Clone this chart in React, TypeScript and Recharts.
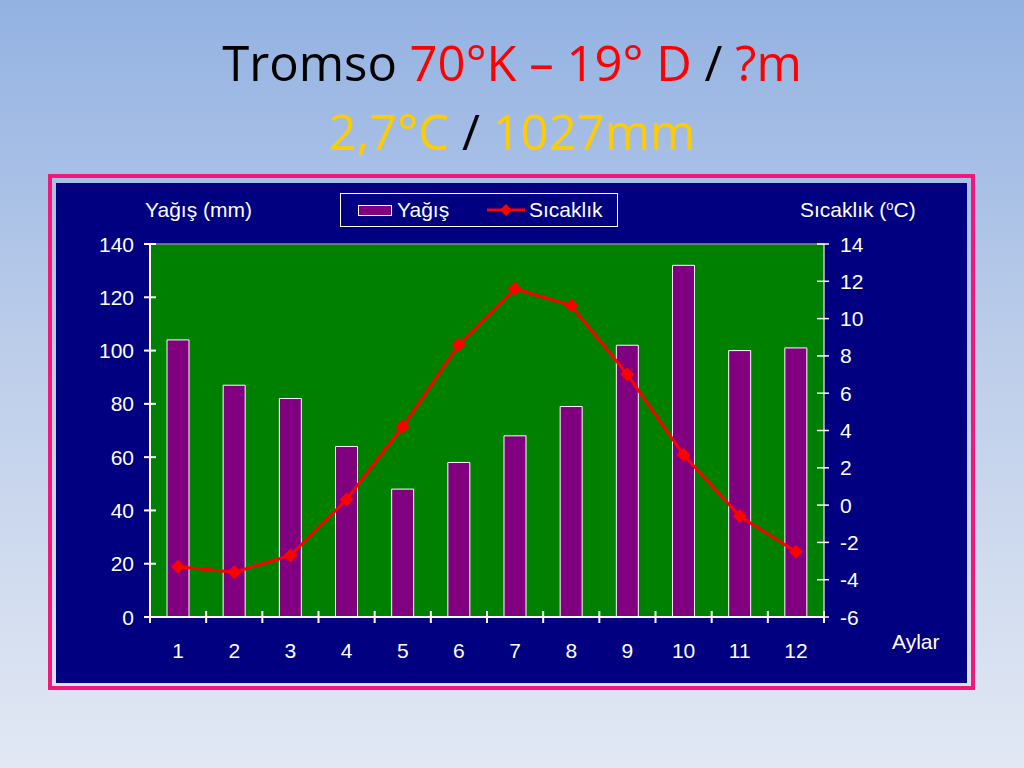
import React from 'react';
import { ComposedChart, Bar, Line, XAxis, YAxis, CartesianGrid, ReferenceLine } from 'recharts';

const months = ['1', '2', '3', '4', '5', '6', '7', '8', '9', '10', '11', '12'];
const precipitation = [104, 87, 82, 64, 48, 58, 68, 79, 102, 132, 100, 101];
const temperature = [-3.3, -3.6, -2.7, 0.3, 4.2, 8.6, 11.6, 10.7, 7.0, 2.7, -0.6, -2.5];
const precipTicks = [0, 20, 40, 60, 80, 100, 120, 140];
const tempTicks = [-6, -4, -2, 0, 2, 4, 6, 8, 10, 12, 14];

const data = months.map((m, i) => ({ month: m, rain: precipitation[i], temp: temperature[i] }));

const FONT = '"Liberation Sans", Arial, sans-serif';
const NAVY = '#000080';
const FS = 21;

const LeftTick = (props: any) => {
  const { x, y, payload } = props;
  return (
    <g>
      <line x1={x - 6} x2={x + 6} y1={y} y2={y} stroke="#fff" strokeWidth={2} />
      <text x={x - 16} y={y} textAnchor="end" dominantBaseline="central" fill="#fff" fontSize={FS} fontFamily={FONT}>
        {payload.value}
      </text>
    </g>
  );
};

const RightTick = (props: any) => {
  const { x, y, payload } = props;
  return (
    <g>
      <line x1={x - 7} x2={x + 5} y1={y} y2={y} stroke="#fff" strokeWidth={1.5} />
      <text x={x + 16} y={y} textAnchor="start" dominantBaseline="central" fill="#fff" fontSize={FS} fontFamily={FONT}>
        {payload.value}
      </text>
    </g>
  );
};

const BottomTick = (props: any) => {
  const { x, y, payload, index, visibleTicksCount, width } = props;
  const w = typeof width === 'number' ? width : 674;
  const n = visibleTicksCount || 12;
  const half = w / n / 2;
  return (
    <g>
      <line x1={x - half} x2={x - half} y1={y - 6} y2={y + 6} stroke="#fff" strokeWidth={2} />
      {index === n - 1 && (
        <line x1={x + half} x2={x + half} y1={y - 6} y2={y + 6} stroke="#fff" strokeWidth={2} />
      )}
      <text x={x} y={y + 33} textAnchor="middle" dominantBaseline="central" fill="#fff" fontSize={FS} fontFamily={FONT}>
        {payload.value}
      </text>
    </g>
  );
};

const Diamond = (props: any) => {
  const { cx, cy } = props;
  if (cx == null || cy == null) return null;
  const r = 7;
  return <polygon points={`${cx},${cy - r} ${cx + r},${cy} ${cx},${cy + r} ${cx - r},${cy}`} fill="#ff0000" />;
};

const label = (extra: React.CSSProperties): React.CSSProperties => ({
  position: 'absolute',
  color: '#fff',
  fontFamily: FONT,
  fontSize: FS,
  lineHeight: '24px',
  whiteSpace: 'nowrap',
  ...extra,
});

export default function App() {
  return (
    <div
      style={{
        position: 'absolute',
        left: 0,
        top: 0,
        width: 1024,
        height: 768,
        overflow: 'hidden',
        background: 'linear-gradient(180deg, #93b2e2 0%, #bccdea 45%, #e2e8f4 100%)',
      }}
    >
      {/* Title */}
      <div
        style={{
          position: 'absolute',
          left: 0,
          top: 28,
          width: 1024,
          textAlign: 'center',
          fontFamily: '"Open Sans", "Noto Sans", sans-serif',
          fontSize: 49,
          lineHeight: '69px',
          color: '#000',
        }}
      >
        <div>
          Tromso <span style={{ color: '#ff0000' }}>70°K – 19° D</span> / <span style={{ color: '#ff0000' }}>?m</span>
        </div>
        <div>
          <span style={{ color: '#ffcc00' }}>2,7°C</span> / <span style={{ color: '#ffcc00' }}>1027mm</span>
        </div>
      </div>

      {/* Frame */}
      <div
        style={{
          position: 'absolute',
          left: 48,
          top: 174,
          width: 927,
          height: 516,
          border: '4px solid #f0187a',
          boxSizing: 'border-box',
        }}
      />
      <div style={{ position: 'absolute', left: 56, top: 183, width: 911, height: 500, background: NAVY }} />

      {/* Axis titles */}
      <div style={label({ left: 145, top: 198 })}>Yağış (mm)</div>
      <div style={label({ left: 800, top: 198 })}>
        Sıcaklık (<sup style={{ fontSize: 13, verticalAlign: 'top', lineHeight: '16px' }}>o</sup>C)
      </div>
      <div style={label({ left: 892, top: 630 })}>Aylar</div>

      {/* Legend */}
      <div
        style={{
          position: 'absolute',
          left: 340,
          top: 193,
          width: 278,
          height: 34,
          border: '1px solid #fff',
          boxSizing: 'border-box',
          background: NAVY,
        }}
      >
        <div
          style={{
            position: 'absolute',
            left: 17,
            top: 11,
            width: 34,
            height: 11,
            background: '#800080',
            border: '1px solid #fff',
            boxSizing: 'border-box',
          }}
        />
        <div style={label({ left: 56, top: 4 })}>Yağış</div>
        <svg style={{ position: 'absolute', left: 146, top: 8 }} width={40} height={16}>
          <line x1={0} x2={38} y1={8} y2={8} stroke="#ff0000" strokeWidth={3} />
          <polygon points="19,2 25,8 19,14 13,8" fill="#ff0000" />
        </svg>
        <div style={label({ left: 188, top: 4 })}>Sıcaklık</div>
      </div>

      {/* Chart */}
      <div style={{ position: 'absolute', left: 0, top: 0 }}>
        <ComposedChart
          width={1024}
          height={768}
          data={data}
          margin={{ top: 244, right: 140, bottom: 111, left: 90 }}
          barCategoryGap={0}
        >
          <CartesianGrid yAxisId="left" fill="#008000" horizontal={false} vertical={false} />
          <XAxis
            dataKey="month"
            height={40}
            axisLine={{ stroke: '#fff', strokeWidth: 2 }}
            tickLine={false}
            tickSize={0}
            tickMargin={0}
            tick={<BottomTick />}
            interval={0}
          />
          <YAxis
            yAxisId="left"
            width={60}
            domain={[0, 140]}
            ticks={precipTicks}
            axisLine={{ stroke: '#fff', strokeWidth: 2 }}
            tickLine={false}
            tickSize={0}
            tickMargin={0}
            tick={<LeftTick />}
            interval={0}
          />
          <YAxis
            yAxisId="right"
            orientation="right"
            width={60}
            domain={[-6, 14]}
            ticks={tempTicks}
            axisLine={{ stroke: '#c8c8c8', strokeWidth: 1.5 }}
            tickLine={false}
            tickSize={0}
            tickMargin={0}
            tick={<RightTick />}
            interval={0}
          />
          <ReferenceLine yAxisId="left" y={140} stroke="#8a8a8a" strokeWidth={1.5} />
          <Bar
            yAxisId="left"
            dataKey="rain"
            name="Yağış"
            fill="#800080"
            stroke="#fff"
            strokeWidth={1}
            barSize={22}
            isAnimationActive={false}
          />
          <Line
            yAxisId="right"
            dataKey="temp"
            name="Sıcaklık"
            stroke="#ff0000"
            strokeWidth={3}
            dot={<Diamond />}
            activeDot={false}
            isAnimationActive={false}
          />
        </ComposedChart>
      </div>
    </div>
  );
}
